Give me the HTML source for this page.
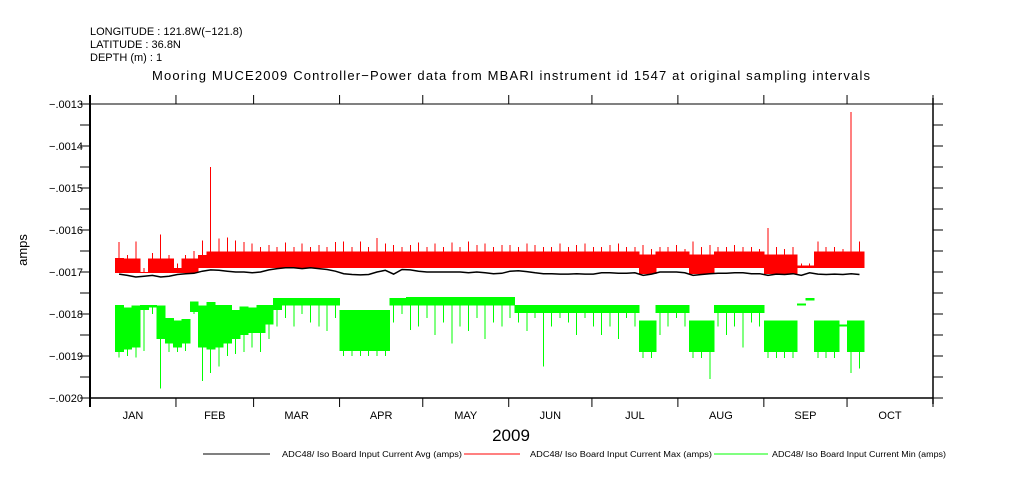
<!DOCTYPE html>
<html><head><meta charset="utf-8"><style>
html,body{margin:0;padding:0;background:#fff;width:1009px;height:504px;overflow:hidden}
svg{display:block;font-family:"Liberation Sans",sans-serif}
</style></head><body>
<svg id="chart" width="1009" height="504" viewBox="0 0 1009 504">
<text x="90" y="35" font-size="11">LONGITUDE : 121.8W(−121.8)</text>
<text x="90" y="48" font-size="11">LATITUDE : 36.8N</text>
<text x="90" y="61" font-size="11">DEPTH (m) : 1</text>
<text x="511" y="80" font-size="13" text-anchor="middle" textLength="718">Mooring MUCE2009 Controller−Power data from MBARI instrument id 1547 at original sampling intervals</text>
<text transform="translate(27,250) rotate(-90)" font-size="13" text-anchor="middle">amps</text>
<text x="511" y="441" font-size="17" text-anchor="middle">2009</text>
<g id="plot" shape-rendering="crispEdges"></g>
<g id="axes"></g>
<g font-size="8">
<line x1="203" y1="454" x2="270" y2="454" stroke="#000"/>
<text x="282" y="457" textLength="180" lengthAdjust="spacingAndGlyphs">ADC48/ Iso Board Input Current Avg (amps)</text>
<line x1="464" y1="454" x2="520" y2="454" stroke="#f00"/>
<text x="530" y="457" textLength="182" lengthAdjust="spacingAndGlyphs">ADC48/ Iso Board Input Current Max (amps)</text>
<line x1="714" y1="454" x2="768" y2="454" stroke="#0f0"/>
<text x="772" y="457" textLength="174" lengthAdjust="spacingAndGlyphs">ADC48/ Iso Board Input Current Min (amps)</text>
</g>
</svg>
<script>
// data in micro-amps, 3-day bins starting Jan 10 2009
const startDay = 9, binDays = 3;
const redTop = [-1667,-1668,-1668,-1700,-1668,-1668,-1668,-1690,-1668,-1668,
-1660,-1651,-1651,-1651,-1651,-1651,-1651,-1651,-1651,-1651,
-1651,-1651,-1651,-1651,-1651,-1651,-1651,-1651,-1651,-1651,
-1651,-1651,-1651,-1651,-1651,-1651,-1651,-1651,-1651,-1651,
-1651,-1651,-1651,-1651,-1651,-1651,-1651,-1651,-1651,-1651,
-1651,-1651,-1651,-1651,-1651,-1651,-1651,-1651,-1651,-1651,
-1651,-1651,-1651,-1658,-1658,-1651,-1651,-1651,-1651,-1658,
-1658,-1658,-1651,-1651,-1651,-1651,-1651,-1651,-1658,-1658,
-1658,-1658,-1685,-1685,-1651,-1651,-1651,-1651,-1651,-1651];
const redBot = [-1702,-1702,-1702,-1702,-1702,-1702,-1702,-1702,-1702,-1702,
-1690,-1690,-1690,-1690,-1690,-1690,-1690,-1690,-1690,-1690,
-1690,-1690,-1690,-1690,-1690,-1690,-1690,-1690,-1690,-1690,
-1690,-1690,-1690,-1690,-1690,-1690,-1690,-1690,-1690,-1690,
-1690,-1690,-1690,-1690,-1690,-1690,-1690,-1690,-1690,-1690,
-1690,-1690,-1690,-1690,-1690,-1690,-1690,-1690,-1690,-1690,
-1690,-1690,-1690,-1705,-1705,-1690,-1690,-1690,-1690,-1705,
-1705,-1705,-1690,-1690,-1690,-1690,-1690,-1690,-1705,-1705,
-1705,-1705,-1690,-1690,-1690,-1690,-1690,-1690,-1690,-1690];
const redSpike = [-1628,-1660,-1627,-1690,-1655,-1611,-1660,-1680,-1660,-1650,
-1625,-1450,-1620,-1618,-1625,-1628,-1632,-1640,-1636,-1640,
-1630,-1640,-1632,-1640,-1636,-1640,-1628,-1627,-1640,-1627,
-1640,-1619,-1632,-1636,-1640,-1636,-1630,-1640,-1632,-1640,
-1630,-1640,-1627,-1636,-1632,-1640,-1636,-1636,-1640,-1632,
-1636,-1640,-1640,-1632,-1640,-1636,-1632,-1640,-1640,-1636,
-1632,-1640,-1640,-1636,-1645,-1640,-1640,-1636,-1645,-1627,
-1640,-1636,-1640,-1640,-1636,-1640,-1640,-1645,-1595,-1640,
-1645,-1640,-1680,-1680,-1627,-1640,-1640,-1645,-1319,-1627];
const avgVals = [-1705,-1708,-1712,-1710,-1708,-1712,-1710,-1706,-1704,-1703,
-1698,-1695,-1696,-1698,-1700,-1700,-1702,-1700,-1695,-1692,
-1690,-1690,-1692,-1690,-1692,-1694,-1698,-1704,-1706,-1707,
-1706,-1700,-1696,-1705,-1694,-1695,-1698,-1700,-1700,-1700,
-1700,-1700,-1702,-1700,-1702,-1704,-1703,-1698,-1697,-1699,
-1702,-1704,-1704,-1705,-1705,-1704,-1705,-1705,-1702,-1702,
-1703,-1703,-1702,-1708,-1705,-1700,-1700,-1700,-1702,-1708,
-1706,-1704,-1703,-1703,-1702,-1702,-1704,-1704,-1708,-1705,
-1706,-1704,-1708,-1702,-1705,-1706,-1705,-1706,-1704,-1706];
const greenTop = [-1778,-1785,-1780,-1778,-1778,-1780,-1810,-1815,-1812,-1770,
-1780,-1772,-1778,-1778,-1790,-1782,-1785,-1778,-1778,-1762,
-1762,-1762,-1762,-1762,-1762,-1762,-1762,-1790,-1790,-1790,
-1790,-1790,-1790,-1762,-1762,-1760,-1760,-1760,-1760,-1760,
-1760,-1760,-1760,-1760,-1760,-1760,-1760,-1760,-1778,-1778,
-1778,-1778,-1778,-1778,-1778,-1778,-1778,-1778,-1778,-1778,
-1778,-1778,-1778,-1815,-1815,-1778,-1778,-1778,-1778,-1815,
-1815,-1815,-1778,-1778,-1778,-1778,-1778,-1778,-1815,-1815,
-1815,-1815,-1775,-1762,-1815,-1815,-1815,-1825,-1815,-1815];
const greenBot = [-1890,-1885,-1880,-1790,-1785,-1860,-1870,-1880,-1870,-1795,
-1880,-1885,-1880,-1870,-1860,-1850,-1845,-1845,-1825,-1790,
-1780,-1780,-1780,-1780,-1780,-1780,-1780,-1888,-1888,-1888,
-1888,-1888,-1888,-1780,-1780,-1780,-1780,-1780,-1780,-1780,
-1780,-1780,-1780,-1780,-1780,-1780,-1780,-1780,-1798,-1798,
-1798,-1798,-1798,-1798,-1798,-1798,-1798,-1798,-1798,-1798,
-1798,-1798,-1798,-1890,-1890,-1798,-1798,-1798,-1798,-1890,
-1890,-1890,-1798,-1798,-1798,-1798,-1798,-1798,-1890,-1890,
-1890,-1890,-1780,-1768,-1890,-1890,-1890,-1830,-1890,-1890];
const greenSpike = [-1903,-1900,-1903,-1888,-1800,-1977,-1890,-1890,-1888,-1800,
-1960,-1940,-1925,-1900,-1895,-1890,-1880,-1890,-1860,-1830,
-1810,-1830,-1800,-1820,-1830,-1840,-1810,-1900,-1900,-1900,
-1900,-1900,-1900,-1820,-1800,-1838,-1830,-1810,-1850,-1820,
-1870,-1830,-1840,-1810,-1860,-1820,-1830,-1810,-1820,-1840,
-1810,-1925,-1830,-1810,-1820,-1850,-1810,-1830,-1850,-1830,
-1860,-1810,-1830,-1905,-1905,-1850,-1830,-1810,-1830,-1905,
-1905,-1955,-1830,-1850,-1830,-1880,-1820,-1830,-1905,-1905,
-1905,-1905,-1780,-1768,-1905,-1905,-1905,-1830,-1940,-1930];
const yTicks = [-0.0013,-0.0014,-0.0015,-0.0016,-0.0017,-0.0018,-0.0019,-0.0020];
const yTickLabels = ["-.0013","-.0014","-.0015","-.0016","-.0017","-.0018","-.0019","-.0020"];
const months = ["JAN","FEB","MAR","APR","MAY","JUN","JUL","AUG","SEP","OCT"];
const monthStarts = [0,31,59,90,120,151,181,212,243,273,304];

const X0=90,X1=933,Y0=104,Y1=398,DAYS=304,YMAX=-0.0013,YMIN=-0.0020;
const xs = d => X0 + d*(X1-X0)/DAYS;
const ys = v => Y0 + (YMAX - v)/(YMAX-YMIN)*(Y1-Y0);
const ua = u => u*1e-6;
const NS="http://www.w3.org/2000/svg";
const plot=document.getElementById('plot'), axes=document.getElementById('axes');
function mk(tag, attrs, parent){const e=document.createElementNS(NS,tag);for(const k in attrs)e.setAttribute(k,attrs[k]);parent.appendChild(e);return e;}

for(let i=0;i<redTop.length;i++){
  const xa=xs(startDay+i*binDays), xb=xs(startDay+(i+1)*binDays), xm=(xa+xb)/2;
  let r=mk('rect',{x:xa,y:ys(ua(redTop[i])),width:xb-xa+0.6,height:Math.max(1,ys(ua(redBot[i]))-ys(ua(redTop[i]))),fill:'#f00'},plot);
  
  
  let s=mk('line',{x1:xm,x2:xm,y1:ys(ua(redSpike[i])),y2:ys(ua(redTop[i])),stroke:'#f00','stroke-width':1},plot);
  
  
  let g=mk('rect',{x:xa,y:ys(ua(greenTop[i])),width:xb-xa+0.6,height:Math.max(1,ys(ua(greenBot[i]))-ys(ua(greenTop[i]))),fill:'#0f0'},plot);
  
  
  let gs=mk('line',{x1:xm,x2:xm,y1:ys(ua(greenBot[i])),y2:ys(ua(greenSpike[i])),stroke:'#0f0','stroke-width':1},plot);
  
  
}
let pts=avgVals.map((v,i)=>xs(startDay+i*binDays+1.5).toFixed(1)+','+ys(ua(v)).toFixed(1)).join(' ');
let avgLine=mk('polyline',{points:pts,fill:'none',stroke:'#000','stroke-width':1.5,'shape-rendering':'auto'},plot);



// frame
mk('line',{x1:X0,y1:Y0-9,x2:X0,y2:Y1+9,stroke:'#000','stroke-width':2},axes);
mk('line',{x1:X0,y1:Y0,x2:X1,y2:Y0,stroke:'#000','stroke-width':1},axes);
mk('line',{x1:X0,y1:Y1,x2:X1,y2:Y1,stroke:'#000','stroke-width':1.5},axes);
mk('line',{x1:X1,y1:Y0-6,x2:X1,y2:Y1+6,stroke:'#000','stroke-width':1.5},axes);
for(let k=0;k<=14;k++){
  const v=YMAX-k*0.00005, y=ys(v);
  mk('line',{x1:X0-10,x2:X0,y1:y,y2:y,stroke:'#000'},axes);
  mk('line',{x1:X1,x2:X1+10,y1:y,y2:y,stroke:'#000'},axes);
}
yTicks.forEach((v,i)=>{
  let t=mk('text',{x:83,y:ys(v)+4,'font-size':11,'text-anchor':'end'},axes);
  t.textContent=yTickLabels[i].replace('-','−');
  
  
});
monthStarts.forEach(d=>{
  const x=xs(d);
  mk('line',{x1:x,x2:x,y1:Y0-9,y2:Y0,stroke:'#000'},axes);
  mk('line',{x1:x,x2:x,y1:Y1,y2:Y1+9,stroke:'#000'},axes);
});
months.forEach((m,i)=>{
  let t=mk('text',{x:(xs(monthStarts[i])+xs(monthStarts[i+1]))/2,y:419,'font-size':11,'text-anchor':'middle'},axes);
  t.textContent=m;
  
  
});
</script>
</body></html>
